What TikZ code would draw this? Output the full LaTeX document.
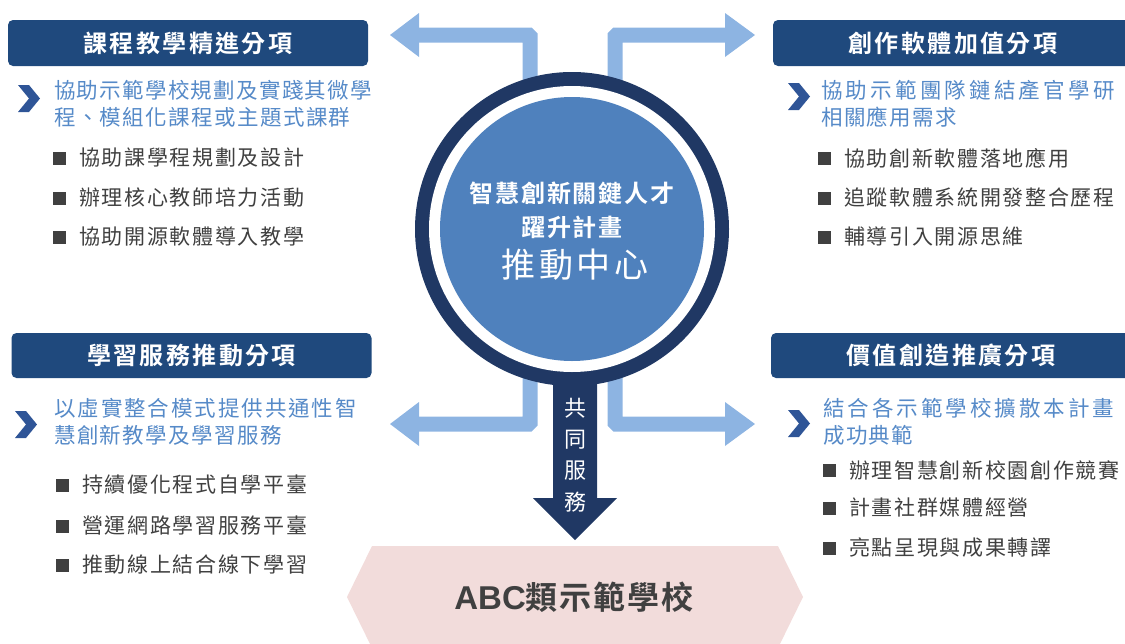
\documentclass[tikz,border=0pt]{standalone}
\usepackage{fontspec}
\setmainfont{Noto Sans CJK TC}[BoldFont={Noto Sans CJK TC Bold}]
\newfontfamily\latinf{Liberation Sans}
\newcommand\lsp[1]{\addfontfeatures{LetterSpace=#1}}
\newcommand\fs[1]{\fontsize{#1pt}{#1pt}\selectfont}
\definecolor{hdrc}{RGB}{31,73,125}
\definecolor{ringc}{RGB}{32,56,100}
\definecolor{circc}{RGB}{79,129,189}
\definecolor{lightarr}{RGB}{141,180,226}
\definecolor{chevc}{RGB}{47,85,151}
\definecolor{bluet}{RGB}{86,138,200}
\definecolor{grayd}{RGB}{64,64,64}
\definecolor{pinkc}{RGB}{242,220,219}
\tikzset{
  hdr/.style={fill=hdrc, rounded corners=5pt, minimum width=360pt, minimum height=46pt, inner sep=0pt, text=white, font=\fs{24}\bfseries\lsp{10}},
  bluetxt/.style={anchor=west, inner sep=0pt, align=left, text=bluet, font=\fontsize{21.5pt}{27pt}\selectfont},
  btxt/.style={anchor=west, inner sep=0pt, text=grayd, font=\fs{21}\lsp{8}},
  larrow/.style={draw=lightarr, line width=15pt, rounded corners=1.5pt},
  chev/.pic={\fill[chevc] (-11,-13.5) -- (0,-13.5) -- (11,0) -- (0,13.5) -- (-11,13.5) -- (0,0) -- cycle;}
}
\newcommand\bul[4]{\fill[grayd] (#2,#3-6.5) rectangle ++(13,13); \node[btxt] (#1) at (#2+26,#3) {#4};}
\begin{document}
\begin{tikzpicture}[x=1pt,y=-1pt]
\useasboundingbox (0,0) rectangle (1125,643);
\clip (0,0) rectangle (1125,643);
% school hexagon
\fill[pinkc] (347,597) -- (372,546) -- (778,546) -- (803,597) -- (778,648) -- (372,648) -- cycle;
\node[inner sep=0pt, text=grayd, font=\fs{32}\bfseries\lsp{6}] (abc) at (574,597) {{\latinf\fontsize{33pt}{33pt}\selectfont\bfseries ABC}類示範學校};
% light arrows
\coordinate (C) at (572,229);
\coordinate (tlTip) at (390,35);
\coordinate (trTip) at (755,35);
\coordinate (blTip) at (390,424);
\coordinate (brTip) at (755,424);
\draw[larrow] (530,150) |- (419,35);
\fill[lightarr] (419,13) -- (tlTip) -- (419,57) -- cycle;
\draw[larrow] (615,150) |- (725,35);
\fill[lightarr] (725,13) -- (trTip) -- (725,57) -- cycle;
\draw[larrow] (530,300) |- (419,424);
\fill[lightarr] (419,402) -- (blTip) -- (419,446) -- cycle;
\draw[larrow] (615,300) |- (725,424);
\fill[lightarr] (725,402) -- (brTip) -- (725,446) -- cycle;
% down arrow
\coordinate (dTip) at (575,540);
\fill[ringc] (553,300) -- (553,498) -- (533,498) -- (dTip) -- (617,498) -- (597,498) -- (597,300) -- cycle;
% hub circle
\node[circle, fill=ringc, minimum size=314pt, inner sep=0pt] (ring) at (C) {};
\node[circle, fill=white, minimum size=286pt, inner sep=0pt] (gap) at (C) {};
\node[circle, fill=circc, minimum size=264pt, inner sep=0pt] (hub) at (C) {};
\node[text=white, inner sep=0pt, font=\fs{24}\bfseries\lsp{8}] (c1) at (572,193) {智慧創新關鍵人才};
\node[text=white, inner sep=0pt, font=\fs{24}\bfseries\lsp{8}] (c2) at (572,227) {躍升計畫};
\node[text=white, inner sep=0pt, font=\fs{34}\lsp{11}] (c3) at (575,265) {推動中心};
\node[text=white, inner sep=0pt, align=center, font=\fontsize{22pt}{31.3pt}\selectfont] (gtfw) at (575,455) {共\\同\\服\\務};
% headers
\node[hdr] (h1) at (188,43) {課程教學精進分項};
\node[hdr, minimum height=45pt] (h3) at (191.5,355.5) {學習服務推動分項};
\node[hdr] (h2) at (953,43) {創作軟體加值分項};
\node[hdr, minimum height=45pt] (h4) at (951,355.5) {價值創造推廣分項};
% chevrons
\pic at (29,98.5) {chev};
\pic at (799,96.5) {chev};
\pic at (26,424.5) {chev};
\pic at (799,423.5) {chev};
% blue text
\node[bluetxt] (b1) at (54,103.5) {{\lsp{6}協助示範學校規劃及實踐其微學}\\{\lsp{6.5}程、模組化課程或主題式課群}};
\node[bluetxt] (b2) at (821,103.5) {{\lsp{15}協助示範團隊鏈結產官學研}\\{\lsp{6.5}相關應用需求}};
\node[bluetxt] (b3) at (54,421.5) {{\lsp{9}以虛實整合模式提供共通性智}\\{\lsp{6.5}慧創新教學及學習服務}};
\node[bluetxt] (b4) at (823,421.5) {{\lsp{14}結合各示範學校擴散本計畫}\\{\lsp{6.5}成功典範}};
% bullets
\bul{l1}{53}{158}{協助課學程規劃及設計}
\bul{l2}{53}{198}{辦理核心教師培力活動}
\bul{l3}{53}{237}{協助開源軟體導入教學}
\bul{r1}{818}{158}{協助創新軟體落地應用}
\bul{r2}{818}{198}{追蹤軟體系統開發整合歷程}
\bul{r3}{818}{237}{輔導引入開源思維}
\bul{m1}{56}{485}{持續優化程式自學平臺}
\bul{m2}{56}{526}{營運網路學習服務平臺}
\bul{m3}{56}{565}{推動線上結合線下學習}
\bul{n1}{823}{470}{辦理智慧創新校園創作競賽}
\bul{n2}{823}{508}{計畫社群媒體經營}
\bul{n3}{823}{548}{亮點呈現與成果轉譯}
\end{tikzpicture}
\end{document}
